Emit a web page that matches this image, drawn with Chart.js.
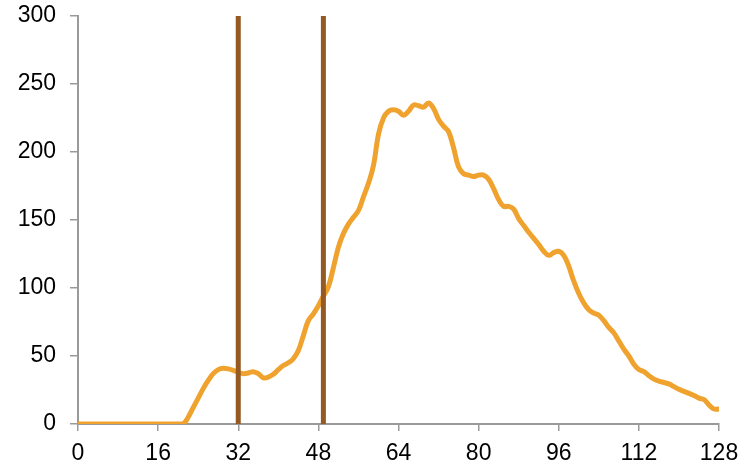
<!DOCTYPE html>
<html>
<head>
<meta charset="utf-8">
<script src="https://cdn.jsdelivr.net/npm/chart.js@4"></script>
<style>
  html, body { margin: 0; padding: 0; background: #fff; }
  #wrap { width: 755px; height: 466px; }
</style>
</head>
<body>
<div id="wrap"><canvas id="myChart"></canvas></div>
<script>
// valores (x = 0..128)
const xValues = [];
for (let i = 0; i <= 128; i++) xValues.push(i);

const yValues = [
  0, 0, 0, 0, 0, 0, 0, 0, 0, 0,
  0, 0, 0, 0, 0, 0, 0, 0, 0, 0,
  0, 0, 5, 12, 19, 26, 32, 37, 40, 41,
  40.5, 39.5, 38, 37, 37.5, 38.5, 37, 34, 34.5, 36.5,
  40, 43, 45, 48, 54, 65, 76, 81, 87, 94,
  101, 115, 130, 140, 147, 152, 157, 167, 177, 190,
  213, 225, 230, 231, 230, 227, 230, 234.5, 234, 233,
  236, 232, 224, 219, 215, 203, 189, 184, 183, 182,
  183, 183, 180, 173, 165, 160, 160, 158, 151, 146,
  141, 136.5, 132, 127, 124, 126, 127, 124, 116, 105,
  96, 89, 84, 81.5, 80, 76, 71, 67, 61, 55,
  50, 44, 40, 38.5, 35.5, 33, 31.5, 30.5, 29.5, 27.5,
  25.5, 24, 22.5, 21, 19, 18, 14, 11, 11
];

// linhas verticais
const markerX = [32, 49];
const yMin = 0, yMax = 300, yStep = 50;
const xMin = 0, xMax = 128, xStep = 16;

const curve = xValues.map((x, i) => ({ x: x, y: yValues[i] }));

const markerSets = markerX.map(x => ({
  data: [{ x: x, y: yMin }, { x: x, y: yMax }],
  borderColor: '#955a23',
  borderWidth: 5,
  pointRadius: 0,
  tension: 0,
  order: 0
}));

const axisColor = '#9a9a9a';
const font = { family: '"Liberation Sans", sans-serif', size: 23 };

const ctx = document.getElementById('myChart').getContext('2d');
const myChart = new Chart(ctx, {
  type: 'line',
  data: {
    datasets: [{
      data: curve,
      borderColor: '#f0a22e',
      borderWidth: 5,
      pointRadius: 0,
      tension: 0.4,
      order: 1
    }].concat(markerSets)
  },
  options: {
    responsive: true,
    maintainAspectRatio: false,
    animation: false,
    plugins: { legend: { display: false }, tooltip: { enabled: false } },
    layout: { padding: { top: 16, right: 36, bottom: 0, left: 0 } },
    scales: {
      x: {
        type: 'linear',
        min: xMin, max: xMax,
        grid: { drawOnChartArea: false, drawTicks: true, tickLength: 7, color: axisColor, lineWidth: 1.5 },
        border: { color: axisColor, width: 2 },
        ticks: { stepSize: xStep, color: '#000', font: font, padding: 9, maxRotation: 0 },
        afterFit: s => { s.height = 42; s.paddingLeft = 0; s.paddingRight = 0; }
      },
      y: {
        min: yMin, max: yMax,
        grid: { drawOnChartArea: false, drawTicks: true, tickLength: 8, color: axisColor, lineWidth: 1.5 },
        border: { color: axisColor, width: 2 },
        ticks: { stepSize: yStep, color: '#000', font: font, padding: 14 },
        afterFit: s => { s.width = 78; s.paddingTop = 0; s.paddingBottom = 0; }
      }
    }
  }
});
</script>
</body>
</html>
